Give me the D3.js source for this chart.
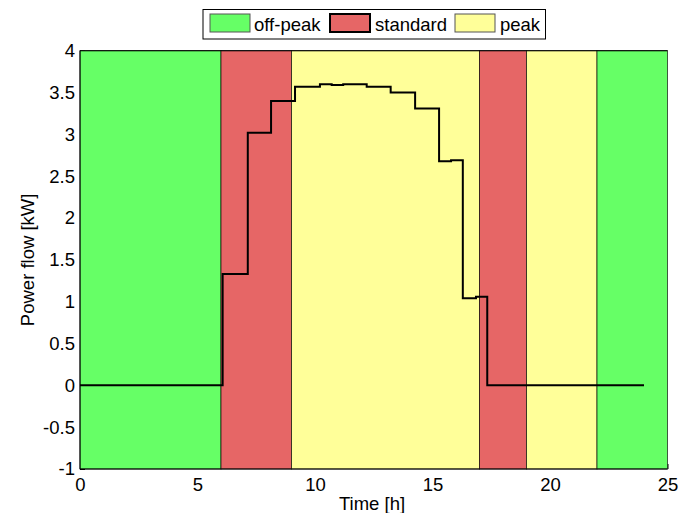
<!DOCTYPE html>
<html>
<head>
<meta charset="utf-8">
<script src="https://cdn.jsdelivr.net/npm/d3@7"></script>
<style>
  html, body { margin: 0; padding: 0; background: #fff; }
  svg { display: block; font-family: "Liberation Sans", Arial, sans-serif; }
</style>
</head>
<body>
<svg id="chart" width="694" height="513"></svg>
<script>
// ---- data ----
const tariffNames = ["off-peak", "standard", "peak"];
const tariffColors = ["#66ff66", "#e66666", "#ffff99"];
const regionStart = [0, 6, 9, 17, 19, 22];
const regionEnd   = [6, 9, 17, 19, 22, 25];
const regionType  = ["off-peak", "standard", "peak", "standard", "peak", "off-peak"];

const stepTime  = [0, 6.07, 7.14, 8.13, 9.15, 10.21, 10.71, 11.20, 12.20, 13.22, 14.26, 15.28, 15.79, 16.29, 16.85, 17.33, 24];
const stepValue = [0, 1.33, 3.02, 3.40, 3.57, 3.60, 3.59, 3.60, 3.57, 3.50, 3.31, 2.68, 2.69, 1.04, 1.06, 0, 0];

const xTicks = [0, 5, 10, 15, 20, 25];
const yTicks = [-1, -0.5, 0, 0.5, 1, 1.5, 2, 2.5, 3, 3.5, 4];

// ---- layout ----
const svg = d3.select("#chart");
const pL = 80, pR = 667.5, pT = 50.7, pB = 469;
const x = d3.scaleLinear().domain([0, 25]).range([pL, pR]);
const y = d3.scaleLinear().domain([-1, 4]).range([pB, pT]);
const color = d3.scaleOrdinal().domain(tariffNames).range(tariffColors);
const fontSize = 18.5;

// ticks (inward, drawn beneath patches like MATLAB layer bottom)
const gx = svg.append("g").attr("transform", `translate(0,${pB})`)
  .call(d3.axisBottom(x).tickValues(xTicks).tickSizeInner(-5).tickSizeOuter(0).tickPadding(10).tickFormat(d3.format("d")));
const gy = svg.append("g").attr("transform", `translate(${pL},0)`)
  .call(d3.axisLeft(y).tickValues(yTicks).tickSizeInner(-5).tickSizeOuter(0).tickPadding(5).tickFormat(d => String(d)));
[gx, gy].forEach(g => {
  g.select(".domain").remove();
  g.selectAll("line").attr("stroke", "#000");
  g.selectAll("text").attr("font-size", fontSize).attr("fill", "#000")
    .attr("font-family", "'Liberation Sans', Arial, sans-serif");
});
gx.selectAll("text").attr("dy", "0.71em").attr("y", 9);

// tariff regions
const regions = regionStart.map((s, i) => ({ s, e: regionEnd[i], t: regionType[i] }));
svg.append("g").selectAll("rect").data(regions).join("rect")
  .attr("x", d => x(d.s)).attr("width", d => x(d.e) - x(d.s))
  .attr("y", y(4)).attr("height", y(-1) - y(4))
  .attr("fill", d => color(d.t))
  .attr("stroke", "#000").attr("stroke-opacity", 0.65).attr("stroke-width", 1);

// axes box lines
svg.append("line").attr("x1", pL).attr("x2", pL).attr("y1", pT).attr("y2", pB).attr("stroke", "#000");
svg.append("line").attr("x1", pL).attr("x2", pR).attr("y1", pT).attr("y2", pT).attr("stroke", "#000");
svg.append("line").attr("x1", pL).attr("x2", pR).attr("y1", pB).attr("y2", pB).attr("stroke", "#000");

// power flow line
const pts = stepTime.map((t, i) => [t, stepValue[i]]);
svg.append("path").datum(pts)
  .attr("d", d3.line().x(d => x(d[0])).y(d => y(d[1])).curve(d3.curveStepAfter))
  .attr("fill", "none").attr("stroke", "#000").attr("stroke-width", 2);

// axis labels
svg.append("text").attr("x", 372).attr("y", 510)
  .attr("text-anchor", "middle").attr("font-size", fontSize).text("Time [h]");
svg.append("text").attr("transform", `translate(34,${(pT + pB) / 2}) rotate(-90)`)
  .attr("text-anchor", "middle").attr("font-size", fontSize).text("Power flow [kW]");

// legend
const lg = svg.append("g");
lg.append("rect").attr("x", 203).attr("y", 9.5).attr("width", 342.5).attr("height", 29.5)
  .attr("fill", "#fff").attr("stroke", "#000").attr("stroke-width", 1);
const swX = [210, 330, 455];
const txX = [254, 375, 500];
tariffNames.forEach((n, i) => {
  lg.append("rect").attr("x", swX[i]).attr("y", 14).attr("width", 40).attr("height", 18)
    .attr("fill", color(n))
    .attr("stroke", n === "standard" ? "#000" : "#555")
    .attr("stroke-width", n === "standard" ? 2 : 1);
  lg.append("text").attr("x", txX[i]).attr("y", 30.5).attr("font-size", fontSize).text(n);
});
</script>
</body>
</html>
